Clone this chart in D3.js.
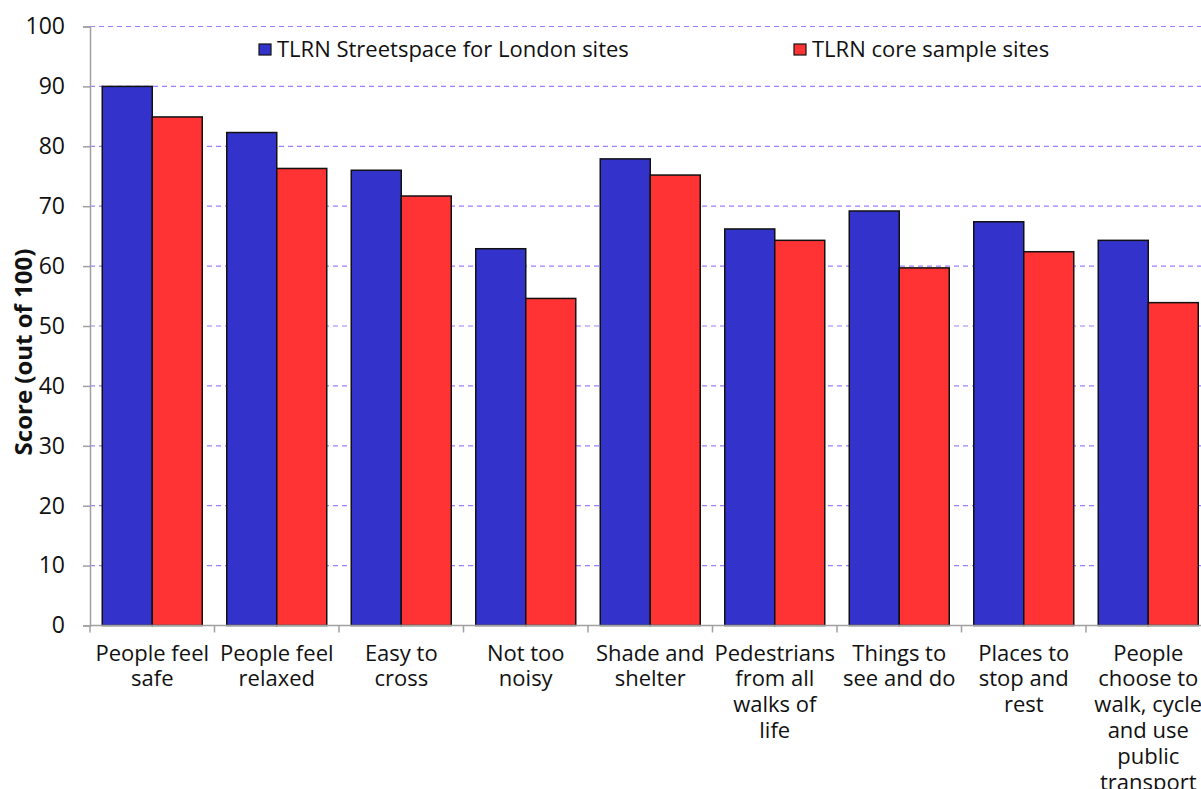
<!DOCTYPE html>
<html lang="en">
<head>
    <meta charset="UTF-8">
    <title>Street scores</title>
    <script src="https://d3js.org/d3.v7.min.js"></script>
</head>
<style>
    body { margin: 0; background: #fff; }
    svg { display: block; font-family: "Open Sans", "Noto Sans", sans-serif; }
</style>
<body>
<script>
    // chart values
    const categories = [
        "People feel|safe",
        "People feel|relaxed",
        "Easy to|cross",
        "Not too|noisy",
        "Shade and|shelter",
        "Pedestrians|from all|walks of|life",
        "Things to|see and do",
        "Places to|stop and|rest",
        "People|choose to|walk, cycle|and use|public|transport"
    ];
    const seriesNames = ["TLRN Streetspace for London sites", "TLRN core sample sites"];
    const streetspace = [90.0, 82.3, 76.0, 62.9, 77.9, 66.2, 69.2, 67.4, 64.3];
    const coreSample = [84.9, 76.3, 71.7, 54.6, 75.2, 64.3, 59.7, 62.4, 53.9];
    const yTicks = [0, 10, 20, 30, 40, 50, 60, 70, 80, 90, 100];
    const colors = ["#3333CC", "#FF3333"];

    const svg = d3.select("body")
            .append("svg")
            .attr("width", 1201)
            .attr("height", 789);

    const plotLeft = 90, plotTop = 26.5, plotBottom = 625.5, step = 124.5;

    const x0 = d3.scaleBand()
            .domain(categories)
            .range([plotLeft, plotLeft + step * categories.length]);
    const x1 = d3.scaleBand()
            .domain(seriesNames)
            .range([0, x0.bandwidth()])
            .paddingOuter(0.245);
    const y = d3.scaleLinear().domain([0, 100]).range([plotBottom, plotTop]);

    // gridlines
    svg.append("g")
            .selectAll("line")
            .data(yTicks.filter(d => d > 0))
            .join("line")
            .attr("x1", plotLeft).attr("x2", 1201)
            .attr("y1", d => y(d)).attr("y2", d => y(d))
            .attr("stroke", "#9F7FFF")
            .attr("stroke-width", 1.2)
            .attr("stroke-dasharray", "5,4");

    // bars
    const rows = categories.map((c, i) => ({cat: c, vals: [streetspace[i], coreSample[i]]}));
    const groups = svg.append("g")
            .selectAll("g")
            .data(rows)
            .join("g")
            .attr("transform", d => `translate(${x0(d.cat)},0)`);
    groups.selectAll("rect")
            .data(d => d.vals.map((v, j) => ({name: seriesNames[j], v: v, j: j})))
            .join("rect")
            .attr("x", d => x1(d.name))
            .attr("width", x1.bandwidth())
            .attr("y", d => y(d.v))
            .attr("height", d => y(0) - y(d.v))
            .attr("fill", d => colors[d.j])
            .attr("stroke", "#111")
            .attr("stroke-width", 1.5);

    // y axis
    const yAxis = svg.append("g")
            .attr("transform", `translate(${plotLeft},0)`)
            .call(d3.axisLeft(y).tickValues(yTicks).tickSize(7).tickPadding(18));
    yAxis.select(".domain").attr("stroke", "#a0a0a0").attr("stroke-width", 1.5);
    yAxis.selectAll(".tick line").attr("stroke", "#a0a0a0").attr("stroke-width", 1.5);
    yAxis.selectAll(".tick text")
            .attr("font-size", 23)
            .attr("fill", "#111")
            .attr("font-family", "'Open Sans', sans-serif");

    // x axis line and boundary ticks
    const xg = svg.append("g");
    xg.append("line")
            .attr("x1", plotLeft).attr("x2", 1201)
            .attr("y1", plotBottom).attr("y2", plotBottom)
            .attr("stroke", "#a0a0a0").attr("stroke-width", 1.5);
    const bounds = categories.map(c => x0(c)).concat([x0.range()[1]]);
    xg.selectAll(".bt")
            .data(bounds)
            .join("line")
            .attr("class", "bt")
            .attr("x1", d => d).attr("x2", d => d)
            .attr("y1", plotBottom).attr("y2", plotBottom + 7)
            .attr("stroke", "#a0a0a0").attr("stroke-width", 1.5);

    // category labels
    const labels = xg.selectAll(".cl")
            .data(categories)
            .join("text")
            .attr("class", "cl")
            .attr("text-anchor", "middle")
            .attr("font-size", 22)
            .attr("fill", "#111")
            .attr("transform", d => `translate(${x0(d) + x0.bandwidth() / 2},${plotBottom + 35})`);
    labels.selectAll("tspan")
            .data(d => d.split("|"))
            .join("tspan")
            .attr("x", 0)
            .attr("dy", (d, i) => i === 0 ? 0 : 25.8)
            .text(d => d);

    // y title
    svg.append("text")
            .attr("transform", "translate(32,352) rotate(-90)")
            .attr("text-anchor", "middle")
            .attr("font-size", 24)
            .attr("font-weight", "bold")
            .attr("fill", "#111")
            .text("Score (out of 100)");

    // legend
    const legendX = [259, 794];
    const legend = svg.append("g")
            .selectAll("g")
            .data(seriesNames)
            .join("g")
            .attr("transform", (d, i) => `translate(${legendX[i]},44)`);
    legend.append("rect")
            .attr("width", 12).attr("height", 11)
            .attr("fill", (d, i) => colors[i])
            .attr("stroke", "#111").attr("stroke-width", 1.2);
    legend.append("text")
            .attr("x", 18).attr("y", 12.5)
            .attr("font-size", 22)
            .attr("fill", "#111")
            .text(d => d);
</script>
</body>
</html>
